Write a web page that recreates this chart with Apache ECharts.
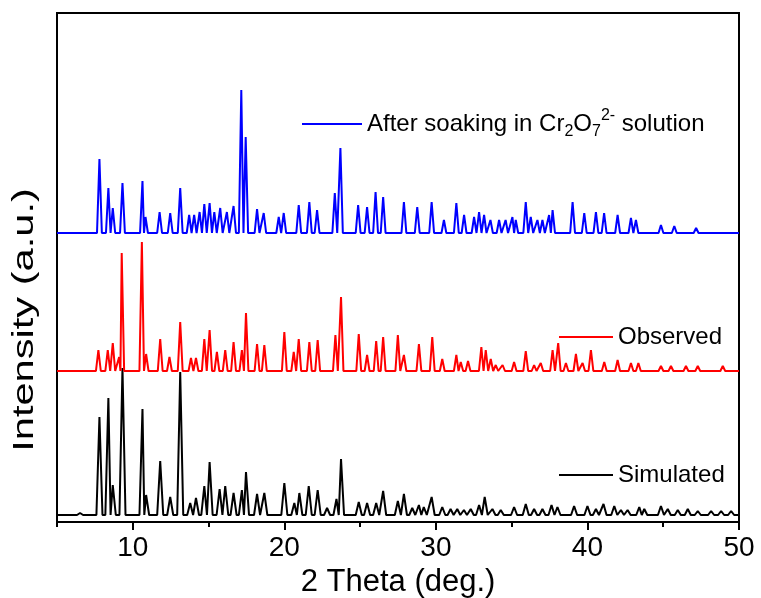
<!DOCTYPE html>
<html>
<head>
<meta charset="utf-8">
<script src="https://cdn.jsdelivr.net/npm/echarts@6/dist/echarts.min.js"></script>
<style>html,body{margin:0;padding:0;background:#fff}#c{width:761px;height:598px}</style>
</head>
<body>
<div id="c"></div>
<script>
// ---- data (2θ in degrees, peak heights in arbitrary units) ----
var seriesNames = ['Simulated', 'Observed', 'After soaking in Cr2O72- solution'];
var xTickLabels = [10, 20, 30, 40, 50];
var offsets = [7, 151, 289];

var simPos = [6.52,7.80,8.39,8.68,9.32,10.64,10.88,11.81,12.47,13.13,13.79,14.17,14.72,15.07,15.73,16.10,16.65,17.20,17.47,18.20,18.68,20.00,20.66,20.99,21.61,22.20,22.82,23.44,23.74,24.91,25.46,26.06,26.52,27.49,27.89,28.44,28.88,29.20,29.72,30.42,30.97,31.41,31.85,32.30,32.85,33.22,33.73,34.28,35.16,35.93,36.48,37.03,37.63,38.02,39.12,40.00,40.56,41.06,41.77,42.21,42.65,43.42,43.75,44.85,45.30,45.96,46.62,47.28,48.16,48.82,49.48];
var simH   = [2,98,117,30,147,106,20,54,18,143,12,17,29,53,26,29,22,25,43,21,22,32,12,22,29,25,7,16,56,13,12,12,24,14,21,7,10,8,18,8,6,6,5,6,10,18,6,5,8,11,6,6,10,8,9,9,6,11,9,5,5,8,6,9,6,5,6,4,4,4,4];

var obsPos = [7.73,8.35,8.68,9.10,9.27,10.60,10.88,11.81,12.42,13.13,13.84,14.17,14.72,15.07,15.55,16.10,16.65,17.20,17.47,18.20,18.68,20.00,20.62,20.95,21.65,22.20,23.37,23.74,24.91,25.46,26.06,26.52,27.49,27.89,28.88,29.76,30.42,31.35,31.64,32.12,33.00,33.29,33.62,33.95,34.40,35.16,35.93,36.48,36.92,37.70,38.07,38.58,39.24,39.68,40.23,41.11,41.99,42.87,43.36,44.85,45.51,46.50,47.28,48.93];
var obsH   = [21,21,28,14,118,129,17,32,14,49,13,13,32,41,19,21,29,21,58,27,26,39,19,32,29,31,36,74,37,16,30,34,36,16,27,34,12,16,9,10,24,21,12,6,6,9,20,6,8,21,28,8,17,8,21,9,11,8,8,5,5,5,5,5];

var soakPos = [7.80,8.39,8.68,9.32,10.64,10.84,11.77,12.47,13.13,13.72,14.05,14.41,14.72,15.07,15.38,15.77,16.21,16.65,17.16,17.45,18.20,18.64,19.63,19.96,20.95,21.65,22.16,23.33,23.70,24.87,25.46,26.02,26.52,27.89,28.77,29.72,30.53,31.35,31.86,32.52,32.85,33.18,33.60,34.17,34.60,35.05,35.27,35.93,36.26,36.70,37.03,37.47,37.70,39.02,39.79,40.56,41.10,41.99,42.87,43.20,44.85,45.73,47.17];
var soakH   = [74,45,25,50,52,16,21,20,45,18,18,21,29,30,21,25,21,27,143,96,24,20,16,20,28,31,23,40,85,28,26,41,36,31,26,31,13,30,18,16,21,18,13,13,13,16,13,31,16,13,13,18,23,31,20,21,20,18,15,13,8,7,5];

// ---- build line tables (peak apex + baseline feet) ----
function profile(pos, h, base, w) {
  var pts = [[5, base]];
  for (var i = 0; i < pos.length; i++) {
    var lf = pos[i] - w, rf = pos[i] + w;
    if (i > 0) lf = Math.max(lf, (pos[i] + pos[i - 1]) / 2);
    if (i < pos.length - 1) rf = Math.min(rf, (pos[i] + pos[i + 1]) / 2);
    pts.push([lf, base], [pos[i], base + h[i]], [rf, base]);
  }
  pts.push([50, base]);
  return pts;
}

var FONT = 'Liberation Sans, Arial, sans-serif';
var chart = echarts.init(document.getElementById('c'), null, {renderer: 'canvas'});
function legendAt(name, left, top, w) {
  return {
    data: [name], left: left, top: top, padding: 0, itemWidth: w, itemHeight: 2,
    icon: 'rect', itemGap: 0, selectedMode: false,
    formatter: function (n) {
      return n === seriesNames[2] ? 'After soaking in Cr{sub|2}O{sub|7}{sup|2-} solution' : n;
    },
    textStyle: {
      fontSize: 24, color: '#000', fontFamily: FONT, lineHeight: 32,
      rich: {
        sub: {fontSize: 16, lineHeight: 14, verticalAlign: 'bottom', fontFamily: FONT, color: '#000'},
        sup: {fontSize: 16, lineHeight: 16, verticalAlign: 'top', fontFamily: FONT, color: '#000'}
      }
    }
  };
}
var lw = 2;
chart.setOption({
  animation: false,
  backgroundColor: '#fff',
  grid: {left: 57, right: 22, top: 13, bottom: 76, containLabel: false, outerBoundsMode: 'none',
         show: true, borderColor: '#000', borderWidth: 2, backgroundColor: 'transparent'},
  legend: [
    legendAt(seriesNames[2], 302, 108, 60),
    legendAt(seriesNames[1], 559, 321, 54),
    legendAt(seriesNames[0], 559, 459, 54)
  ],
  xAxis: [{
    type: 'value', min: 5, max: 50, interval: 5,
    name: '2 Theta (deg.)', nameLocation: 'middle', nameGap: 44,
    nameTextStyle: {fontSize: 31, color: '#000', fontFamily: FONT},
    axisLine: {lineStyle: {color: '#000', width: 2}},
    axisTick: {show: true, inside: false, length: 8, lineStyle: {color: '#000', width: 2}, customValues: xTickLabels},
    axisLabel: {fontSize: 28, color: '#000', fontFamily: FONT, margin: 12, customValues: xTickLabels},
    splitLine: {show: false}
  }, {
    type: 'value', min: 5, max: 50, interval: 5, position: 'bottom',
    axisLine: {show: false},
    axisTick: {show: true, inside: false, length: 5, lineStyle: {color: '#000', width: 2}, customValues: [5, 15, 25, 35, 45]},
    axisLabel: {show: false},
    splitLine: {show: false}
  }],
  yAxis: {
    type: 'value', min: 0, max: 509,
    axisLine: {show: true, lineStyle: {color: '#000', width: 2}},
    axisTick: {show: false}, axisLabel: {show: false}, splitLine: {show: false}
  },
  graphic: [{
    type: 'text', x: 25, y: 320, rotation: Math.PI / 2, scaleX: 1.3, scaleY: 0.95,
    style: {text: 'Intensity (a.u.)', fontSize: 32, fontFamily: FONT, fill: '#000', align: 'center', verticalAlign: 'middle'}
  }],
  series: [
    {name: seriesNames[0], type: 'line', data: profile(simPos, simH, offsets[0], 0.2), showSymbol: false, color: '#000', lineStyle: {width: lw, color: '#000'}},
    {name: seriesNames[1], type: 'line', data: profile(obsPos, obsH, offsets[1], 0.16), showSymbol: false, color: '#ff0000', lineStyle: {width: lw, color: '#ff0000'}},
    {name: seriesNames[2], type: 'line', data: profile(soakPos, soakH, offsets[2], 0.16), showSymbol: false, color: '#0000ff', lineStyle: {width: lw, color: '#0000ff'}}
  ]
});
</script>
</body>
</html>
